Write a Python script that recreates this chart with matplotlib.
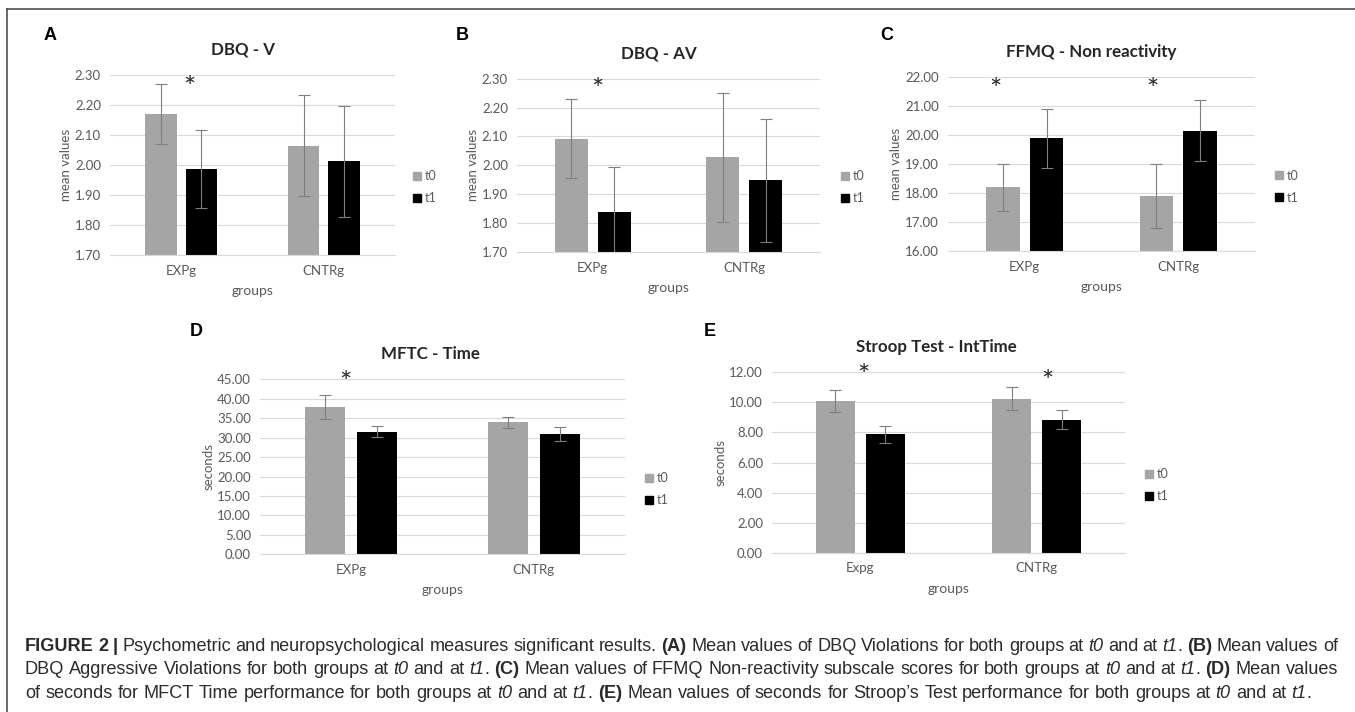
import matplotlib
matplotlib.use('Agg')
import matplotlib.pyplot as plt
import matplotlib.transforms as mtransforms
import numpy as np
from matplotlib.patches import Patch
from matplotlib.lines import Line2D
from matplotlib.font_manager import FontProperties

# ---- data --------------------------------------------------------------------
groups = ['EXPg', 'CNTRg']
groups_e = ['Expg', 'CNTRg']
series = ['t0', 't1']

dbq_v_t0 = [2.170, 2.065]
dbq_v_t1 = [1.988, 2.013]
dbq_v_t0_err = [0.100, 0.168]
dbq_v_t1_err = [0.130, 0.185]

dbq_av_t0 = [2.092, 2.028]
dbq_av_t1 = [1.838, 1.948]
dbq_av_t0_err = [0.137, 0.224]
dbq_av_t1_err = [0.157, 0.213]

ffmq_t0 = [18.20, 17.90]
ffmq_t1 = [19.90, 20.16]
ffmq_t0_err = [0.81, 1.12]
ffmq_t1_err = [1.02, 1.05]

mftc_t0 = [37.90, 33.90]
mftc_t1 = [31.50, 31.00]
mftc_t0_err = [3.10, 1.40]
mftc_t1_err = [1.40, 1.80]

stroop_t0 = [10.08, 10.25]
stroop_t1 = [7.88, 8.84]
stroop_t0_err = [0.74, 0.76]
stroop_t1_err = [0.58, 0.63]

# significance stars (x in category units, y in data units)
stars_a = [(0.06, 2.283)]
stars_b = [(0.03, 2.289)]
stars_c = [(-0.19, 21.84), (0.83, 21.84)]
stars_d = [(-0.03, 46.1)]
stars_e = [(0.02, 12.29), (1.06, 11.89)]

caption_runs = [
    [('FIGURE 2 |', 'b'),
     (' Psychometric and neuropsychological measures significant results. ', 'r'),
     ('(A)', 'b'), (' Mean values of DBQ Violations for both groups at ', 'r'),
     ('t0', 'i'), (' and at ', 'r'), ('t1', 'i'), ('. ', 'r'),
     ('(B)', 'b'), (' Mean values of', 'r')],
    [('DBQ Aggressive Violations for both groups at ', 'r'), ('t0', 'i'),
     (' and at ', 'r'), ('t1', 'i'), ('. ', 'r'), ('(C)', 'b'),
     (' Mean values of FFMQ Non-reactivity subscale scores for both groups at ', 'r'),
     ('t0', 'i'), (' and at ', 'r'), ('t1', 'i'), ('. ', 'r'), ('(D)', 'b'),
     (' Mean values', 'r')],
    [('of seconds for MFCT Time performance for both groups at ', 'r'), ('t0', 'i'),
     (' and at ', 'r'), ('t1', 'i'), ('. ', 'r'), ('(E)', 'b'),
     (' Mean values of seconds for Stroop\u2019s Test performance for both groups at ', 'r'),
     ('t0', 'i'), (' and at ', 'r'), ('t1', 'i'), ('.', 'r')],
]

# ---- styling -----------------------------------------------------------------
W, H = 1355, 712
CHART_FONT = ['Lato', 'DejaVu Sans']
CAP_FONT = 'Liberation Sans'
C_T0 = '#a5a5a5'
C_T1 = '#000000'
C_GRID = '#d9d9d9'
C_TXT = '#595959'

panels = [
    dict(letter='A', title='DBQ - V', ylabel='mean values', cats=groups,
         t0=dbq_v_t0, t1=dbq_v_t1, e0=dbq_v_t0_err, e1=dbq_v_t1_err,
         ylim=(1.70, 2.30), step=0.10, stars=stars_a,
         rect=(110, 75, 395, 255), letter_xy=(50, 35), leg_xy=(413, 187.5)),
    dict(letter='B', title='DBQ - AV', ylabel='mean values', cats=groups,
         t0=dbq_av_t0, t1=dbq_av_t1, e0=dbq_av_t0_err, e1=dbq_av_t1_err,
         ylim=(1.70, 2.30), step=0.10, stars=stars_b,
         rect=(517, 78.7, 820, 252), letter_xy=(462, 35), leg_xy=(841, 187.5)),
    dict(letter='C', title='FFMQ - Non reactivity', ylabel='mean values', cats=groups,
         t0=ffmq_t0, t1=ffmq_t1, e0=ffmq_t0_err, e1=ffmq_t1_err,
         ylim=(16.0, 22.0), step=1.0, stars=stars_c,
         rect=(948, 77.3, 1255, 251), letter_xy=(887, 35), leg_xy=(1275, 186.5)),
    dict(letter='D', title='MFTC - Time', ylabel='seconds', cats=groups,
         t0=mftc_t0, t1=mftc_t1, e0=mftc_t0_err, e1=mftc_t1_err,
         ylim=(0.0, 45.0), step=5.0, stars=stars_d,
         rect=(260, 379.3, 625, 554.3), letter_xy=(196, 331), leg_xy=(645, 489.5)),
    dict(letter='E', title='Stroop Test - IntTime', ylabel='seconds', cats=groups_e,
         t0=stroop_t0, t1=stroop_t1, e0=stroop_t0_err, e1=stroop_t1_err,
         ylim=(0.0, 12.0), step=2.0, stars=stars_e,
         rect=(772, 372.3, 1125, 552.7), letter_xy=(710, 332), leg_xy=(1145, 485)),
]

BAR_W = 0.22
OFFSET = 0.142
STAR_SIZE = 21


def px_axes(fig, left, top, right, bottom):
    return fig.add_axes([left / W, 1 - bottom / H, (right - left) / W, (bottom - top) / H])


def draw_panel(fig, p):
    ax = px_axes(fig, *p['rect'])
    x = np.arange(len(p['cats']))
    ekw = dict(ecolor='#7f7f7f', elinewidth=0.8, capsize=4.5, capthick=0.8)
    ax.bar(x - OFFSET, p['t0'], BAR_W, color=C_T0, yerr=p['e0'], error_kw=ekw,
           label=series[0], zorder=2)
    ax.bar(x + OFFSET, p['t1'], BAR_W, color=C_T1, yerr=p['e1'], error_kw=ekw,
           label=series[1], zorder=2)

    ymin, ymax = p['ylim']
    ax.set_ylim(ymin, ymax)
    ax.set_xlim(-0.5, len(p['cats']) - 0.5)
    ax.set_yticks(np.arange(ymin, ymax + p['step'] / 2, p['step']))
    ax.yaxis.set_major_formatter(matplotlib.ticker.FormatStrFormatter('%.2f'))
    ax.set_xticks(x)
    ax.set_xticklabels(p['cats'])
    ax.grid(axis='y', color=C_GRID, lw=0.8, zorder=0)
    ax.set_axisbelow(True)
    for s in ['top', 'right', 'left']:
        ax.spines[s].set_visible(False)
    ax.spines['bottom'].set_color(C_GRID)
    ax.spines['bottom'].set_linewidth(0.8)
    ax.tick_params(axis='both', length=0, labelsize=9.5, labelcolor=C_TXT)
    ax.tick_params(axis='x', pad=7)
    ax.tick_params(axis='y', pad=6.5)
    for lab in ax.get_xticklabels() + ax.get_yticklabels():
        lab.set_family(CHART_FONT)

    ax.set_ylabel(p['ylabel'], fontsize=9.5, color=C_TXT, family=CHART_FONT, labelpad=2)
    ax.set_xlabel('groups', fontsize=10, color=C_TXT, family=CHART_FONT, labelpad=6)
    ax.set_title(p['title'], x=0.467, pad=14.8, fontsize=12.2, fontweight='bold',
                 color='#262626', family=CHART_FONT)

    # the asterisk glyph sits high in its line box: shift it down onto the anchor
    star_tr = mtransforms.offset_copy(ax.transData, fig=fig, y=-0.3 * STAR_SIZE,
                                      units='points')
    for sx, sy in p['stars']:
        ax.text(sx, sy, '*', ha='center', va='center', fontsize=STAR_SIZE,
                color='#262626', family=CHART_FONT, clip_on=False, transform=star_tr)

    handles = [Patch(color=C_T0), Patch(color=C_T1)]
    lx, ly = p['leg_xy']
    ax.legend(handles, series, loc='center left', bbox_to_anchor=(lx / W, 1 - ly / H),
              bbox_transform=fig.transFigure, frameon=False, borderpad=0,
              borderaxespad=0, handlelength=0.6, handleheight=0.6,
              handletextpad=0.35, labelspacing=0.8,
              prop=dict(family=CHART_FONT, size=9), labelcolor=C_TXT)

    fx, fy = p['letter_xy']
    fig.text(fx / W, 1 - fy / H, p['letter'], ha='center', va='center',
             fontsize=13, fontweight='bold', family='Liberation Sans', color='black')
    return ax


def caption_words(runs):
    words = [[]]
    for text, style in runs:
        parts = text.split(' ')
        for k, part in enumerate(parts):
            if k > 0:
                words.append([])
            if part:
                words[-1].append((part, style))
    return [w for w in words if w]


STYLE = {'r': dict(weight='normal', style='normal'),
         'b': dict(weight='bold', style='normal'),
         'i': dict(weight='normal', style='italic')}


def seg_width(renderer, text, style, size):
    prop = FontProperties(family=CAP_FONT, size=size, **STYLE[style])
    w, h, d = renderer.get_text_width_height_descent(text, prop, ismath=False)
    return w


def draw_caption(fig, x0, x1, baselines, base_size=10.0):
    renderer = fig.canvas.get_renderer()
    lines = [caption_words(r) for r in caption_runs]
    space = 0.278 * base_size * fig.dpi / 72

    # pick font size so the last (unjustified) line ends where the original does
    last = lines[-1]
    widths = [sum(seg_width(renderer, t, s, base_size) for t, s in w) for w in last]
    natural = sum(widths) + space * (len(last) - 1)
    size = base_size * 1298.0 / natural
    space = 0.278 * size * fig.dpi / 72

    for i, (words, yb) in enumerate(zip(lines, baselines)):
        wws = [[seg_width(renderer, t, s, size) for t, s in w] for w in words]
        total = sum(sum(w) for w in wws)
        if i < len(lines) - 1:
            gap = (x1 - x0 - total) / (len(words) - 1)
        else:
            gap = space
        x = x0
        for w, ww in zip(words, wws):
            for (t, s), sw in zip(w, ww):
                fig.text(x / W, 1 - yb / H, t, ha='left', va='baseline',
                         fontsize=size, family=CAP_FONT, color='#2b2b2b', **STYLE[s])
                x += sw
            x += gap


fig = plt.figure(figsize=(W / 100, H / 100), dpi=100)
fig.patch.set_facecolor('white')

for p in panels:
    draw_panel(fig, p)

# frame lines (top and left) of the figure box
fig.add_artist(Line2D([7.5 / W, 7.5 / W], [0, 1 - 8.5 / H], transform=fig.transFigure,
                      color='#404040', lw=1.1))
fig.add_artist(Line2D([7.5 / W, 1], [1 - 8.5 / H, 1 - 8.5 / H], transform=fig.transFigure,
                      color='#404040', lw=1.1))

draw_caption(fig, 25, 1338, [651, 674.5, 698])

fig.savefig('out.png', dpi=100)
